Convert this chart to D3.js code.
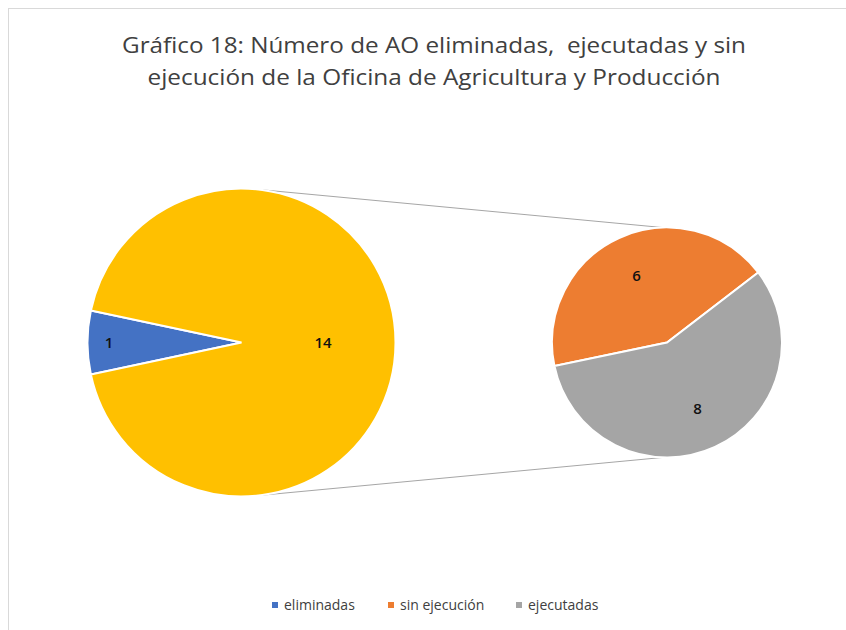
<!DOCTYPE html>
<html>
<head>
<meta charset="utf-8">
<script src="https://cdn.jsdelivr.net/npm/d3@7"></script>
<style>
  body { margin: 0; background: #fff; }
  svg { display: block; font-family: "Open Sans", "Noto Sans", sans-serif; }
  .title { white-space: pre; }
</style>
</head>
<body>
<svg id="chart" width="846" height="630"></svg>
<script>
// chart values
const titleLines = [
  "Gráfico 18: Número de AO eliminadas,  ejecutadas y sin",
  "ejecución de la Oficina de Agricultura y Producción"
];
const mainCategories = ["eliminadas", "otros"];
const mainValues = [1, 14];
const subCategories = ["sin ejecución", "ejecutadas"];
const subValues = [6, 8];
const legendLabels = ["eliminadas", "sin ejecución", "ejecutadas"];

const colors = {
  "eliminadas": "#4472C4",
  "otros": "#FFC000",
  "sin ejecución": "#ED7D31",
  "ejecutadas": "#A5A5A5"
};

const svg = d3.select("#chart");
const deg = Math.PI / 180;

// chart border (only top-left edge visible in the picture)
svg.append("rect")
  .attr("x", 8.5).attr("y", 8.5)
  .attr("width", 900).attr("height", 700)
  .attr("fill", "none")
  .attr("stroke", "#d9d9d9");

// title
svg.selectAll(".title")
  .data(titleLines)
  .enter()
  .append("text")
  .attr("class", "title")
  .attr("x", 434)
  .attr("y", (d, i) => 53 + i * 32)
  .attr("text-anchor", "middle")
  .attr("font-size", 22)
  .attr("fill", "#404040")
  .attr("textLength", (d, i) => (i === 0 ? 624 : 573))
  .attr("lengthAdjust", "spacingAndGlyphs")
  .text((d) => d);

// pie geometry
const mainCx = 241.5, mainCy = 342.5, mainR = 154;
const subCx = 667, subCy = 342.5, subR = 115;

const mainPie = d3.pie().sort(null)
  .startAngle(258 * deg).endAngle(618 * deg);
const mainArcs = mainPie(mainValues)
  .map((a, i) => Object.assign(a, { name: mainCategories[i] }));

const subPie = d3.pie().sort(null)
  .startAngle(258.2 * deg).endAngle(618.2 * deg);
const subArcs = subPie(subValues)
  .map((a, i) => Object.assign(a, { name: subCategories[i] }));

// connector lines between the two pies
const pointOn = (cx, cy, r, a) => [cx + r * Math.sin(a * deg), cy - r * Math.cos(a * deg)];
const connectors = [
  [pointOn(mainCx, mainCy, mainR, 7), pointOn(subCx, subCy, subR, -2)],
  [pointOn(mainCx, mainCy, mainR, 173), pointOn(subCx, subCy, subR, 182)]
];
svg.selectAll(".connector")
  .data(connectors)
  .enter()
  .append("line")
  .attr("class", "connector")
  .attr("x1", (d) => d[0][0]).attr("y1", (d) => d[0][1])
  .attr("x2", (d) => d[1][0]).attr("y2", (d) => d[1][1])
  .attr("stroke", "#a6a6a6")
  .attr("stroke-width", 1);

const mainArc = d3.arc().innerRadius(0).outerRadius(mainR);
const subArc = d3.arc().innerRadius(0).outerRadius(subR);

const gMain = svg.append("g").attr("transform", `translate(${mainCx},${mainCy})`);
gMain.selectAll("path")
  .data(mainArcs)
  .enter()
  .append("path")
  .attr("d", mainArc)
  .attr("fill", (d) => colors[d.name])
  .attr("stroke", "#fff")
  .attr("stroke-width", 2);

const gSub = svg.append("g").attr("transform", `translate(${subCx},${subCy})`);
gSub.selectAll("path")
  .data(subArcs)
  .enter()
  .append("path")
  .attr("d", subArc)
  .attr("fill", (d) => colors[d.name])
  .attr("stroke", "#fff")
  .attr("stroke-width", 2);

// data labels (label radius as fraction of pie radius, like Excel best fit)
const mainLabelPos = [0.86, 0.53];
gMain.selectAll(".lbl")
  .data(mainArcs)
  .enter()
  .append("text")
  .attr("class", "lbl")
  .attr("transform", (d, i) => {
    const r = mainR * mainLabelPos[i];
    return `translate(${d3.arc().innerRadius(r).outerRadius(r).centroid(d)})`;
  })
  .attr("text-anchor", "middle")
  .attr("dy", "0.35em")
  .attr("font-size", 15)
  .attr("font-weight", 600)
  .attr("fill", "#111")
  .text((d) => d.value);

gSub.selectAll(".lbl")
  .data(subArcs)
  .enter()
  .append("text")
  .attr("class", "lbl")
  .attr("transform", (d) => {
    const r = subR * 0.635;
    return `translate(${d3.arc().innerRadius(r).outerRadius(r).centroid(d)})`;
  })
  .attr("text-anchor", "middle")
  .attr("dy", "0.35em")
  .attr("font-size", 15)
  .attr("font-weight", 600)
  .attr("fill", "#111")
  .text((d) => d.value);

// legend
const legendX = [272, 388, 516];
const legend = svg.selectAll(".legend")
  .data(legendLabels)
  .enter()
  .append("g")
  .attr("class", "legend")
  .attr("transform", (d, i) => `translate(${legendX[i]},605)`);
legend.append("rect")
  .attr("x", 0).attr("y", -3)
  .attr("width", 6).attr("height", 6)
  .attr("fill", (d) => colors[d]);
legend.append("text")
  .attr("x", 12)
  .attr("dy", "0.35em")
  .attr("font-size", 14)
  .attr("fill", "#404040")
  .text((d) => d);
</script>
</body>
</html>
